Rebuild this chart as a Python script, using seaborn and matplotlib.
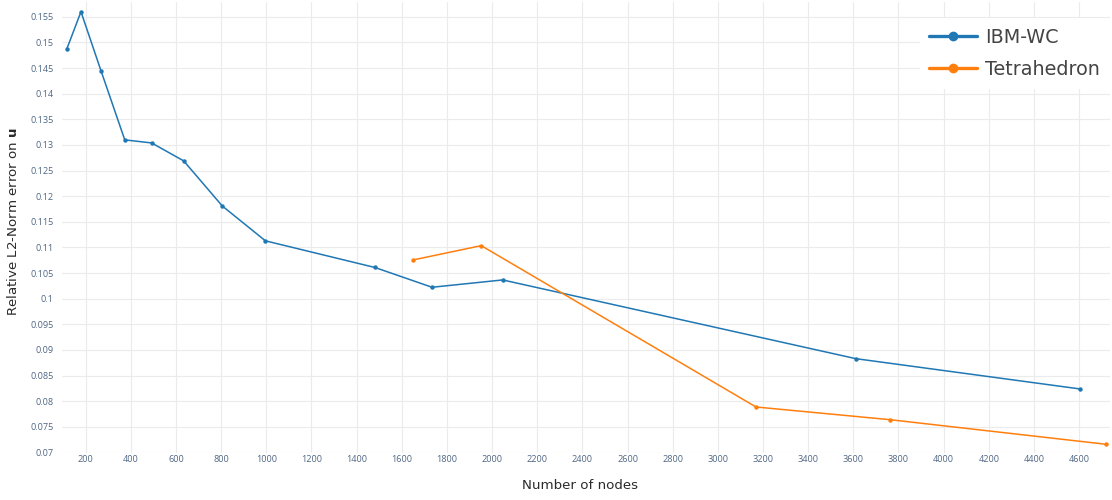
import matplotlib
matplotlib.use("Agg")
import matplotlib.pyplot as plt
import seaborn as sns
import pandas as pd
from matplotlib.ticker import FuncFormatter

# Convergence data: relative L2-norm error on u versus mesh size
ibm_nodes = [116, 179, 268, 373, 492, 634, 805, 996, 1481, 1734, 2047, 3611, 4606]
ibm_error = [0.1487, 0.1560, 0.14445, 0.1310, 0.1304, 0.1269, 0.1181, 0.1113,
             0.1061, 0.10224, 0.10367, 0.08831, 0.08239]
tet_nodes = [1650, 1952, 3169, 3763, 4720]
tet_error = [0.10757, 0.11036, 0.07888, 0.0764, 0.0716]

series_names = ["IBM-WC", "Tetrahedron"]
series_colors = ["#1f77b4", "#ff7f0e"]

x_ticks = list(range(200, 4601, 200))
y_ticks = [round(0.07 + 0.005 * i, 3) for i in range(18)]

df = pd.concat([
    pd.DataFrame({"nodes": ibm_nodes, "error": ibm_error, "mesh": series_names[0]}),
    pd.DataFrame({"nodes": tet_nodes, "error": tet_error, "mesh": series_names[1]}),
], ignore_index=True)

sns.set_theme(style="white")
plt.rcParams["font.family"] = ["Open Sans", "DejaVu Sans"]
plt.rcParams["mathtext.fontset"] = "custom"
plt.rcParams["mathtext.rm"] = "DejaVu Sans"
plt.rcParams["mathtext.bf"] = "DejaVu Sans:bold"

W, H = 1112, 500
fig = plt.figure(figsize=(W / 100, H / 100), dpi=100)
ax = fig.add_axes([62 / W, 1 - 452.5 / H, (1110 - 62) / W, (452.5 - 2) / H])

sns.lineplot(data=df, x="nodes", y="error", hue="mesh", palette=series_colors,
             marker="o", markersize=3.2, markeredgewidth=0, linewidth=1.1,
             sort=False, ax=ax)

ax.set_xlim(95, 4737)
ax.set_ylim(0.07, 0.1579)
ax.set_xticks(x_ticks)
ax.set_yticks(y_ticks)
ax.xaxis.set_major_formatter(FuncFormatter(lambda v, p: f"{v:g}"))
ax.yaxis.set_major_formatter(FuncFormatter(lambda v, p: f"{v:g}"))
ax.grid(True, color="#ebebeb", linewidth=0.8)
ax.set_axisbelow(True)
for s in ax.spines.values():
    s.set_visible(False)
ax.tick_params(axis="both", length=0, labelsize=6.6, labelcolor="#506784")
ax.tick_params(axis="y", pad=6)
ax.tick_params(axis="x", pad=1.5)

title_font = {"family": ["DejaVu Sans"], "size": 9.6, "color": "#2a2a2a"}
ax.set_xlabel("Number of nodes", fontdict=title_font)
ax.set_ylabel(r"Relative L2-Norm error on $\mathbf{u}$", fontdict=title_font)
ax.xaxis.set_label_coords(0.494, -0.058)
ax.yaxis.set_label_coords(-0.0405, 0.512)

leg = ax.legend(loc="upper right", bbox_to_anchor=(1.009, 0.985),
                prop={"family": ["DejaVu Sans"], "size": 13.8},
                frameon=True, facecolor="white", edgecolor="none", framealpha=1,
                handlelength=2.5, handletextpad=0.42, labelspacing=0.68,
                borderpad=0.5)
for line in leg.get_lines():
    line.set_linewidth(2.4)
    line.set_markersize(7)
for t in leg.get_texts():
    t.set_color("#444444")

fig.savefig("out.png", dpi=100)
